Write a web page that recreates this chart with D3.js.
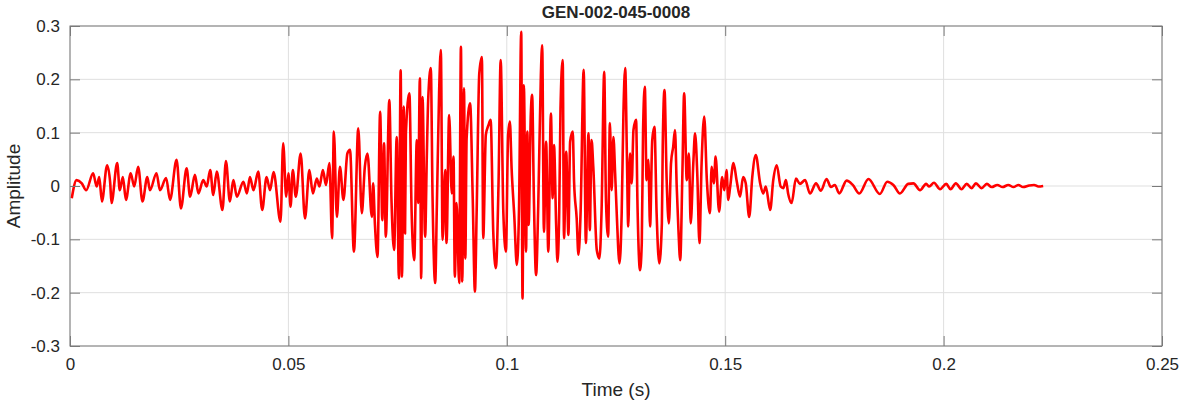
<!DOCTYPE html>
<html>
<head>
<meta charset="utf-8">
<script src="https://cdn.jsdelivr.net/npm/d3@7/dist/d3.min.js"></script>
<style>
  html, body { margin: 0; padding: 0; background: #fff; }
  svg text { font-family: "Liberation Sans", Arial, Helvetica, sans-serif; fill: #262626; }
</style>
</head>
<body>
<svg id="chart" width="1182" height="404"></svg>
<script>
const chartTitle = "GEN-002-045-0008";
const xTicks = [0, 0.05, 0.1, 0.15, 0.2, 0.25];
const xTickLabels = ["0", "0.05", "0.1", "0.15", "0.2", "0.25"];
const yTicks = [-0.3, -0.2, -0.1, 0, 0.1, 0.2, 0.3];
const yTickLabels = ["-0.3", "-0.2", "-0.1", "0", "0.1", "0.2", "0.3"];

// waveform turning points (time in s)
const time = [
  0.0004, 0.0015, 0.0027, 0.0037, 0.0053, 0.0061, 0.0067, 0.0073, 0.0085, 0.0092,
  0.0095, 0.0108, 0.0114, 0.0121, 0.0128, 0.0139, 0.0147, 0.0156, 0.0166, 0.0177,
  0.0183, 0.0198, 0.0206, 0.0220, 0.0229, 0.0244, 0.0254, 0.0267, 0.0275, 0.0286,
  0.0294, 0.0305, 0.0313, 0.0321, 0.0328, 0.0336, 0.0349, 0.0357, 0.0366, 0.0374,
  0.0382, 0.0397, 0.0405, 0.0412, 0.0420, 0.0431, 0.0440, 0.0450, 0.0458, 0.0466,
  0.0482, 0.0488, 0.0495, 0.0500, 0.0505, 0.0510, 0.0517, 0.0528, 0.0538, 0.0548,
  0.0556, 0.0565, 0.0571, 0.0579, 0.0586, 0.0594, 0.0600, 0.0604, 0.0611, 0.0618,
  0.0626, 0.0635, 0.0641, 0.0650, 0.0660, 0.0668, 0.0675, 0.0681, 0.0691, 0.0694,
  0.0698, 0.0704, 0.0710, 0.0715, 0.0719, 0.0723, 0.0731, 0.0736, 0.0742, 0.0748,
  0.0753, 0.0757, 0.0760, 0.0764, 0.0767, 0.0769, 0.0777, 0.0782, 0.0788, 0.0794,
  0.0797, 0.0801, 0.0804, 0.0807, 0.0813, 0.0817, 0.0820, 0.0826, 0.0830, 0.0836,
  0.0840, 0.0845, 0.0849, 0.0853, 0.0859, 0.0862, 0.0868, 0.0874, 0.0878, 0.0881,
  0.0885, 0.0891, 0.0895, 0.0898, 0.0902, 0.0905, 0.0908, 0.0916, 0.0922, 0.0927,
  0.0931, 0.0937, 0.0943, 0.0946, 0.0952, 0.0958, 0.0963, 0.0969, 0.0975, 0.0981,
  0.0986, 0.0992, 0.0998, 0.1003, 0.1007, 0.1011, 0.1017, 0.1023, 0.1028, 0.1033,
  0.1036, 0.1039, 0.1044, 0.1047, 0.1050, 0.1055, 0.1058, 0.1062, 0.1067, 0.1072,
  0.1078, 0.1081, 0.1085, 0.1090, 0.1095, 0.1101, 0.1105, 0.1108, 0.1113, 0.1116,
  0.1120, 0.1123, 0.1128, 0.1131, 0.1136, 0.1141, 0.1145, 0.1151, 0.1154, 0.1160,
  0.1164, 0.1169, 0.1176, 0.1181, 0.1187, 0.1190, 0.1194, 0.1198, 0.1206, 0.1212,
  0.1217, 0.1223, 0.1227, 0.1232, 0.1236, 0.1240, 0.1244, 0.1248, 0.1252, 0.1258,
  0.1263, 0.1267, 0.1271, 0.1275, 0.1278, 0.1282, 0.1286, 0.1290, 0.1296, 0.1299,
  0.1305, 0.1309, 0.1312, 0.1316, 0.1320, 0.1324, 0.1328, 0.1333, 0.1338, 0.1343,
  0.1349, 0.1355, 0.1357, 0.1361, 0.1366, 0.1371, 0.1376, 0.1381, 0.1385, 0.1389,
  0.1393, 0.1397, 0.1402, 0.1406, 0.1412, 0.1417, 0.1421, 0.1427, 0.1431, 0.1436,
  0.1441, 0.1446, 0.1452, 0.1458, 0.1465, 0.1469, 0.1474, 0.1478, 0.1486, 0.1493,
  0.1498, 0.1503, 0.1507, 0.1511, 0.1519, 0.1526, 0.1534, 0.1541, 0.1547, 0.1555,
  0.1562, 0.1570, 0.1580, 0.1587, 0.1593, 0.1603, 0.1610, 0.1618, 0.1627, 0.1633,
  0.1639, 0.1644, 0.1652, 0.1662, 0.1671, 0.1683, 0.1694, 0.1708, 0.1719, 0.1732,
  0.1742, 0.1751, 0.1761, 0.1778, 0.1792, 0.1807, 0.1828, 0.1854, 0.1871, 0.1885,
  0.1900, 0.1919, 0.1931, 0.1946, 0.1960, 0.1967, 0.1978, 0.1992, 0.2006, 0.2016,
  0.2028, 0.2041, 0.2053, 0.2064, 0.2074, 0.2087, 0.2099, 0.2110, 0.2123, 0.2135,
  0.2148, 0.2160, 0.2171, 0.2182, 0.2196, 0.2207, 0.2217, 0.2228
];

const amplitude = [
  -0.023, 0.011, 0.005, -0.008, 0.024, -0.001, 0.017, -0.029, 0.039, 0.006,
  -0.032, 0.043, -0.008, 0.017, -0.026, 0.024, -0.001, 0.036, -0.029, 0.017,
  -0.008, 0.024, -0.008, 0.015, -0.026, 0.049, -0.042, 0.033, -0.020, 0.021,
  -0.014, 0.011, -0.001, 0.030, -0.017, 0.027, -0.045, 0.047, -0.029, 0.011,
  -0.020, 0.008, -0.014, 0.017, -0.008, 0.027, -0.045, 0.017, -0.008, 0.026,
  -0.067, 0.080, -0.020, 0.024, -0.039, 0.030, -0.020, 0.061, -0.061, 0.030,
  -0.014, 0.014, -0.001, 0.030, 0.002, 0.043, -0.098, 0.102, -0.058, 0.036,
  -0.026, 0.061, 0.068, -0.123, 0.108, -0.051, 0.036, 0.061, -0.058, 0.005,
  -0.070, -0.133, 0.139, -0.064, 0.080, -0.095, 0.161, -0.026, -0.120, 0.092,
  -0.173, 0.217, -0.170, 0.149, -0.089, 0.099, 0.174, -0.045, -0.139, 0.086,
  -0.032, 0.202, -0.173, 0.167, -0.095, 0.061, 0.161, 0.221, -0.020, -0.182,
  -0.032, 0.174, 0.255, -0.101, 0.030, -0.107, 0.133, -0.014, 0.055, -0.170,
  -0.032, -0.182, 0.261, -0.179, 0.183, -0.136, 0.089, 0.155, -0.023, -0.198,
  -0.048, 0.211, 0.242, -0.098, 0.096, 0.114, 0.124, -0.086, -0.154, 0.002,
  0.236, -0.048, -0.123, 0.096, 0.121, 0.033, -0.054, -0.148, -0.042, 0.289,
  -0.211, 0.189, -0.123, 0.102, -0.073, 0.136, 0.171, -0.023, -0.167, -0.036,
  0.208, 0.264, -0.086, 0.083, -0.123, 0.136, -0.023, 0.077, -0.073, -0.142,
  -0.048, 0.146, 0.236, -0.098, 0.064, -0.092, 0.083, 0.102, 0.008, -0.061,
  -0.129, -0.048, 0.218, -0.107, 0.099, -0.083, 0.086, 0.036, -0.120, -0.136,
  -0.045, 0.214, -0.026, -0.095, 0.118, -0.008, 0.092, 0.024, -0.058, -0.145,
  -0.051, 0.136, 0.221, 0.055, -0.076, 0.061, 0.005, 0.105, 0.124, -0.026,
  -0.158, -0.107, 0.105, 0.186, 0.011, 0.049, -0.076, 0.086, 0.111, -0.051,
  -0.145, -0.070, 0.074, 0.180, 0.011, -0.070, 0.043, 0.074, 0.105, -0.001,
  -0.083, -0.139, 0.024, 0.174, 0.011, 0.061, -0.070, 0.043, 0.099, 0.024,
  -0.107, 0.043, 0.130, 0.011, -0.051, 0.036, 0.005, 0.055, -0.048, 0.017,
  -0.008, 0.030, -0.026, -0.004, 0.043, 0.011, -0.020, 0.017, 0.005, -0.058,
  0.017, 0.058, 0.005, -0.014, -0.001, -0.045, 0.011, 0.039, -0.001, -0.004,
  0.011, -0.014, -0.032, 0.014, 0.004, 0.011, -0.014, 0.005, -0.009, 0.013,
  -0.002, 0.002, -0.014, 0.010, 0.002, -0.014, 0.013, -0.015, 0.008, 0.002,
  -0.014, 0.004, 0.005, -0.008, 0.004, -0.001, 0.006, -0.006, 0.004, -0.006,
  0.005, -0.006, 0.004, -0.004, 0.005, -0.004, 0.004, -0.002, 0.002, -0.002,
  0.002, -0.002, 0.002, -0.002, 0.001, 0.002, -0.001, 0.000
];

const width = 1182;
const height = 404;
const margin = { top: 26, right: 20, bottom: 58, left: 70 };
const innerWidth = width - margin.left - margin.right;
const innerHeight = height - margin.top - margin.bottom;

const svg = d3.select("#chart");
const g = svg.append("g").attr("transform", `translate(${margin.left}, ${margin.top})`);

const x = d3.scaleLinear().domain([0, 0.25]).range([0, innerWidth]);
const y = d3.scaleLinear().domain([-0.3, 0.3]).range([innerHeight, 0]);

// grid
g.append("g")
  .selectAll("line")
  .data(xTicks)
  .enter()
  .append("line")
  .attr("x1", (d) => x(d))
  .attr("x2", (d) => x(d))
  .attr("y1", 0)
  .attr("y2", innerHeight)
  .attr("stroke", "#dfdfdf")
  .attr("stroke-width", 1);

g.append("g")
  .selectAll("line")
  .data(yTicks)
  .enter()
  .append("line")
  .attr("x1", 0)
  .attr("x2", innerWidth)
  .attr("y1", (d) => y(d))
  .attr("y2", (d) => y(d))
  .attr("stroke", "#dfdfdf")
  .attr("stroke-width", 1);

// signal
const points = time.map((t, i) => ({ t, a: amplitude[i] }));
const line = d3
  .line()
  .x((d) => x(d.t))
  .y((d) => y(d.a))
  .curve(d3.curveMonotoneX);

g.append("path")
  .datum(points)
  .attr("fill", "none")
  .attr("stroke", "#ff0000")
  .attr("stroke-width", 2.6)
  .attr("stroke-linejoin", "round")
  .attr("d", line);

// axes, ticks inward on all four sides
const tickLen = 10;
const axisColor = "#7a7a7a";

function styleAxis(sel) {
  sel.select(".domain").remove();
  sel.selectAll(".tick line").attr("stroke", axisColor);
  sel.selectAll(".tick text").attr("font-size", "17px").attr("fill", "#262626");
}

function tickMarksOnly(sel) {
  styleAxis(sel);
  sel.selectAll(".tick text").remove();
}

g.append("g")
  .attr("transform", `translate(0, ${innerHeight})`)
  .call(
    d3.axisBottom(x).tickValues(xTicks).tickFormat((d, i) => xTickLabels[i])
      .tickSizeInner(-tickLen).tickSizeOuter(0).tickPadding(12)
  )
  .call(styleAxis);

g.append("g")
  .call(d3.axisTop(x).tickValues(xTicks).tickSizeInner(-tickLen).tickSizeOuter(0))
  .call(tickMarksOnly);

g.append("g")
  .call(
    d3.axisLeft(y).tickValues(yTicks).tickFormat((d, i) => yTickLabels[i])
      .tickSizeInner(-tickLen).tickSizeOuter(0).tickPadding(10)
  )
  .call(styleAxis);

g.append("g")
  .attr("transform", `translate(${innerWidth}, 0)`)
  .call(d3.axisRight(y).tickValues(yTicks).tickSizeInner(-tickLen).tickSizeOuter(0))
  .call(tickMarksOnly);

g.append("rect")
  .attr("x", 0)
  .attr("y", 0)
  .attr("width", innerWidth)
  .attr("height", innerHeight)
  .attr("fill", "none")
  .attr("stroke", axisColor)
  .attr("stroke-width", 1);

// labels
svg.append("text")
  .attr("x", margin.left + innerWidth / 2)
  .attr("y", 18)
  .attr("text-anchor", "middle")
  .attr("font-size", "17px")
  .attr("font-weight", "bold")
  .text(chartTitle);

svg.append("text")
  .attr("x", margin.left + innerWidth / 2)
  .attr("y", 396)
  .attr("text-anchor", "middle")
  .attr("font-size", "19px")
  .text("Time (s)");

svg.append("text")
  .attr("transform", `translate(20, ${margin.top + innerHeight / 2}) rotate(-90)`)
  .attr("text-anchor", "middle")
  .attr("font-size", "19px")
  .text("Amplitude");
</script>
</body>
</html>
